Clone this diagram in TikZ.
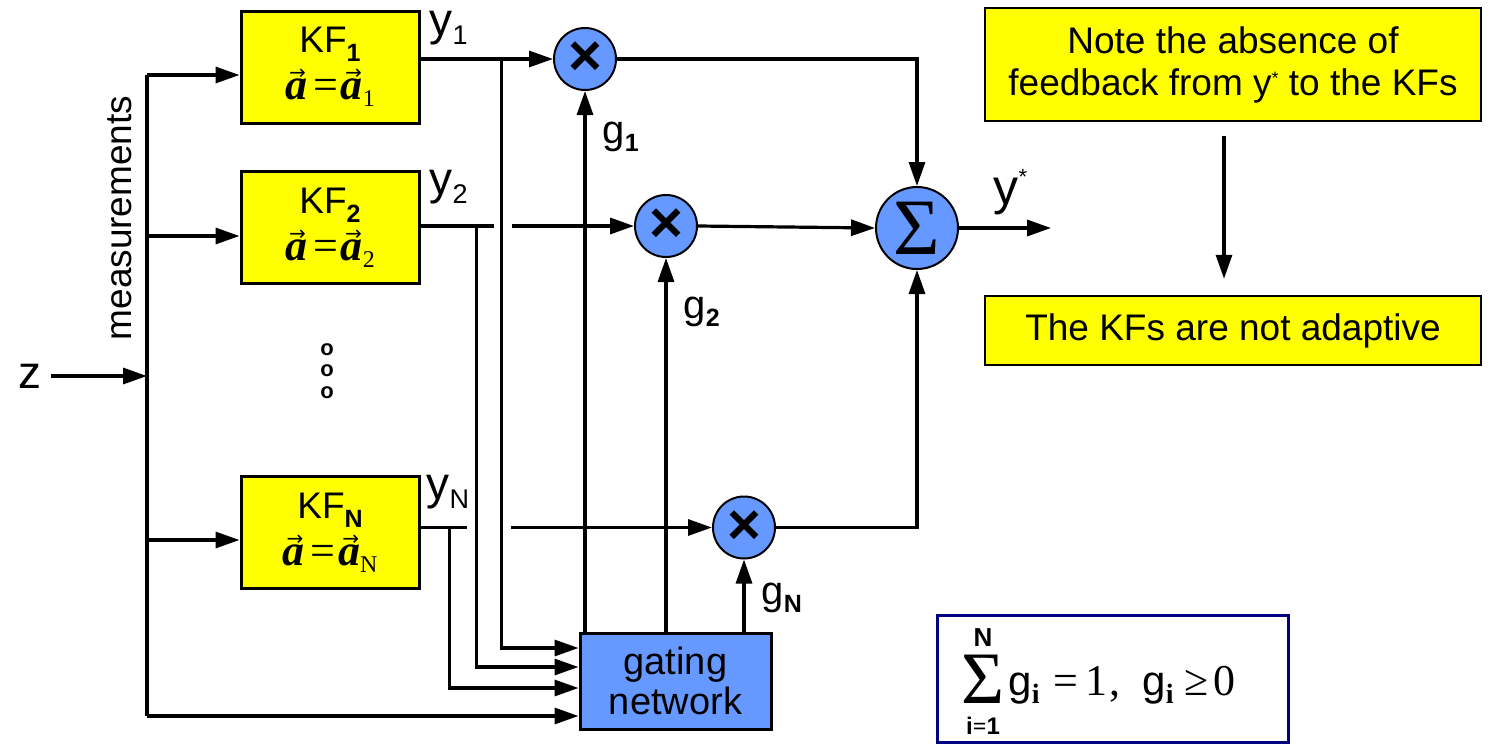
\documentclass[tikz,border=0pt]{standalone}
\usepackage{fontspec}
\setmainfont{Liberation Sans}
\newfontfamily\tnr{Liberation Serif}
\newfontfamily\djv{DejaVu Sans}
\usetikzlibrary{arrows.meta,calc}
\definecolor{kfy}{RGB}{255,255,0}
\definecolor{cblue}{RGB}{102,153,255}
\definecolor{navyb}{RGB}{0,0,128}
\newcommand\ksub[1]{\raisebox{-9pt}{\fontsize{25}{25}\selectfont\bfseries #1}}
\newcommand\ysub[1]{\raisebox{-9pt}{\fontsize{27}{27}\selectfont #1}}
\newcommand\gsub[1]{\raisebox{-8pt}{\fontsize{25}{25}\selectfont\bfseries #1}}
\newcommand\va{\ooalign{{\tnr\bfseries\itshape a}\cr\hidewidth\kern3pt\raisebox{20pt}{\fontsize{20}{20}\selectfont\djv →}\hidewidth\cr}}
\newcommand\eqa[1]{{\fontsize{44}{44}\selectfont\va{\tnr\kern6pt=\kern3pt}\va\raisebox{-7pt}{\fontsize{24}{24}\selectfont\tnr #1}}}
\tikzset{
  kf/.style={draw, fill=kfy, line width=3pt, minimum width=178pt, minimum height=112pt,
    align=center, inner sep=0pt, font=\fontsize{37}{47}\selectfont},
  mul/.style={circle, draw, fill=cblue, line width=2pt, minimum size=62pt, inner sep=0pt,
    font=\fontsize{58}{58}\selectfont\bfseries},
  sumc/.style={circle, draw, fill=cblue, line width=2pt, minimum size=82pt, inner sep=0pt},
  gatebox/.style={draw, fill=cblue, line width=3pt, minimum width=191pt, minimum height=96pt,
    align=center, inner sep=0pt, font=\fontsize{38}{40}\selectfont},
  notebox/.style={draw, fill=kfy, line width=2.5pt, minimum width=496pt, align=center,
    inner sep=0pt, font=\fontsize{37}{42}\selectfont},
  ylab/.style={inner sep=0pt, anchor=base west, font=\fontsize{46}{46}\selectfont},
  glab/.style={inner sep=0pt, anchor=base west, font=\fontsize{40}{40}\selectfont},
  txt/.style={inner sep=0pt, font=\fontsize{37}{40}\selectfont},
  conn/.style={-{Triangle[length=24pt,width=16pt]}},
}
\begin{document}
\begin{tikzpicture}[x=1pt,y=-1pt,line width=3.2pt]
\useasboundingbox (0,0) rectangle (1490,744);

% Kalman filters
\node[kf] (kf1) at (330,67) {KF\ksub{1}\\\eqa{1}};
\node[kf] (kf2) at (330,227.5) {KF\ksub{2}\\\eqa{2}};
\node[kf] (kfn) at (330,532.5) {KF\ksub{N}\\\eqa{N}};
\node[inner sep=0pt, align=center, font=\fontsize{22}{21.5}\selectfont\bfseries] (dots) at (327,371) {o\\o\\o};

% multipliers, sum, gating
\node[mul] (m1) at (585,59) {×};
\node[mul] (m2) at (666,226) {×};
\node[mul] (mn) at (744,527.5) {×};
\node[sumc] (sig) at (917,228) {\fontsize{80}{80}\selectfont\tnr Σ};
\node[gatebox] (gate) at (675.5,681) {gating\\network};

% input bus
\node[txt, font=\fontsize{46}{46}\selectfont] (z) at (30,376) {z};
\node[txt, rotate=90] (meas) at (120,218) {measurements};
\coordinate (bt) at (147,75);
\coordinate (b2) at (147,236);
\coordinate (bz) at (147,376);
\coordinate (bn) at (147,540);
\coordinate (gi1) at ($(gate.west)+(0,-33)$);
\coordinate (gi2) at ($(gate.west)+(0,-14)$);
\coordinate (gi3) at ($(gate.west)+(0,7)$);
\coordinate (gi4) at ($(gate.west)+(0,35)$);
\coordinate (bb) at (bt |- gi4);
\draw (bt) -- (bb);
\draw[conn, shorten <=8pt] (z.east |- bz) -- (bz);
\draw[conn] (bt) -- (bt -| kf1.west);
\draw[conn] (b2) -- (b2 -| kf2.west);
\draw[conn] (bn) -- (bn -| kfn.west);
\draw[conn] (bb) -- (gi4);

% outputs of the filters
\node[ylab] (ly1) at (428,35) {y\ysub{1}};
\node[ylab] (ly2) at (428,194) {y\ysub{2}};
\node[ylab] (lyn) at (425,499) {y\ysub{N}};
\coordinate (j1) at ($(kf1.east |- m1.west)+(81,0)$);
\coordinate (j2) at ($(kf2.east |- m2.west)+(56,0)$);
\coordinate (j3) at ($(kfn.east |- mn.west)+(29,0)$);
\draw[conn] (kf1.east |- m1.west) -- (m1.west);
\draw[conn] (j1) |- (gi1);
\draw (kf2.east |- m2.west) -- ++(73,0);
\draw[conn] (j2) |- (gi2);
\draw[conn] ($(m2.west)+(-122,0)$) -- (m2.west);
\draw (kfn.east |- mn.west) -- ++(46,0);
\draw[conn] (j3) |- (gi3);
\draw[conn] ($(mn.west)+(-201,0)$) -- (mn.west);

% gating weights
\draw[conn] (gate.north -| m1.south) -- (m1.south);
\draw[conn] (gate.north -| m2.south) -- (m2.south);
\draw[conn] ([yshift=-3pt]gate.north -| mn.south) -- (mn.south);
\node[glab] (lg1) at (601,143) {g\gsub{1}};
\node[glab] (lg2) at (682,318) {g\gsub{2}};
\node[glab] (lgn) at (760,604) {g\gsub{N}};

% summation
\draw[conn] (m1.east) -| (sig.north);
\draw[conn] (m2.east) -- (sig.west);
\draw[conn] (mn.east) -| (sig.south);
\draw[conn] (sig.east) -- ++(92,0) coordinate (yout);
\node[ylab, font=\fontsize{50}{50}\selectfont] (lys) at (992,204) {y\raisebox{20pt}{\fontsize{22}{22}\selectfont *}};

% notes
\node[notebox, minimum height=113pt] (note) at (1233,64.5)
  {Note the absence of\\feedback from y\raisebox{11pt}{\fontsize{18}{18}\selectfont *} to the KFs};
\node[notebox, minimum height=69pt] (adapt) at (1233,330.5) {The KFs are not adaptive};
\draw[conn, shorten <=14pt, shorten >=16pt] ([xshift=-9pt]note.south) -- ([xshift=-9pt]adapt.north);

% constraint box
\node[draw=navyb, line width=3pt, fill=white, minimum width=351pt, minimum height=127pt] (fb) at (1112.5,678.5) {};
\node[inner sep=0pt, font=\fontsize{74}{74}\selectfont\tnr] (fsum) at (983,679) {Σ};
\node[inner sep=0pt, font=\fontsize{26}{26}\selectfont\bfseries] (fN) at (983,638) {N};
\node[inner sep=0pt, font=\fontsize{24}{24}\selectfont\bfseries] (fi) at (983,726) {i{\tnr =}1};
\node[inner sep=0pt, anchor=base west, font=\fontsize{42}{42}\selectfont] (fg1) at (1007,695)
  {g\raisebox{-8pt}{\fontsize{28}{28}\selectfont\tnr\bfseries i}};
\node[inner sep=0pt, anchor=base west, font=\fontsize{44}{44}\selectfont\tnr] (feq) at (1052,695) {=\,1\kern2pt,};
\node[inner sep=0pt, anchor=base west, font=\fontsize{42}{42}\selectfont] (fg2) at (1141,695)
  {g\raisebox{-8pt}{\fontsize{28}{28}\selectfont\tnr\bfseries i}};
\node[inner sep=0pt, anchor=base west, font=\fontsize{44}{44}\selectfont\tnr] (fge) at (1183,695) {≥\kern5pt0};
\end{tikzpicture}
\end{document}
